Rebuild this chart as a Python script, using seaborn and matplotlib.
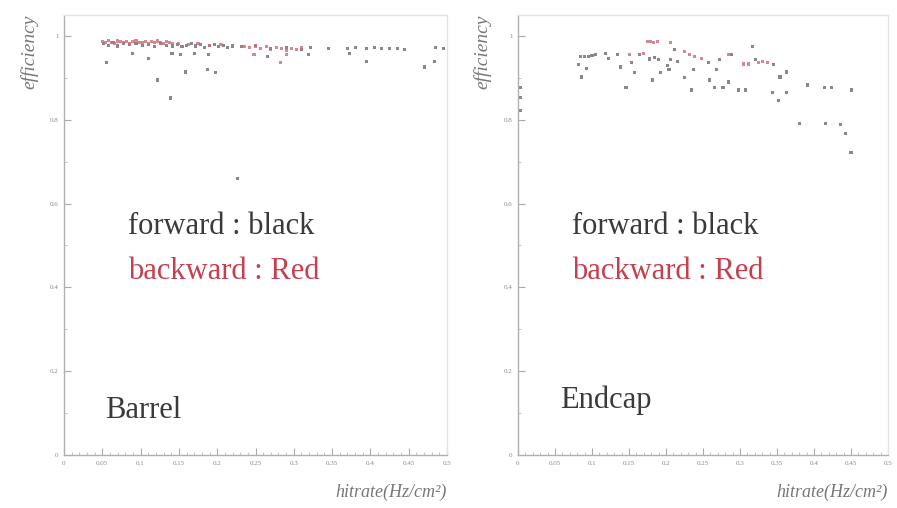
import numpy as np
import pandas as pd
import matplotlib
matplotlib.use("Agg")
import matplotlib.pyplot as plt
import seaborn as sns
from matplotlib.ticker import MultipleLocator, FixedLocator, FixedFormatter

# ---------------- data ----------------
barrel_fwd_x = [0.052, 0.058, 0.064, 0.070, 0.078, 0.086, 0.094, 0.102, 0.110, 0.118,
                0.126, 0.134, 0.142, 0.148, 0.154, 0.160, 0.166, 0.172, 0.178, 0.184,
                0.190, 0.196, 0.202, 0.208, 0.214, 0.220, 0.232, 0.250, 0.270, 0.290,
                0.310, 0.322, 0.345, 0.370, 0.380, 0.395, 0.405, 0.415, 0.425, 0.435,
                0.445, 0.485, 0.495,
                0.056, 0.089, 0.110, 0.122, 0.139, 0.141, 0.152, 0.159, 0.170, 0.187,
                0.198, 0.189, 0.266, 0.319, 0.373, 0.395, 0.471, 0.484, 0.227]
barrel_fwd_y = [0.982, 0.978, 0.984, 0.976, 0.981, 0.979, 0.983, 0.977, 0.980, 0.975,
                0.982, 0.978, 0.976, 0.980, 0.974, 0.978, 0.981, 0.976, 0.979, 0.973,
                0.977, 0.980, 0.975, 0.978, 0.972, 0.976, 0.974, 0.977, 0.970, 0.973,
                0.968, 0.972, 0.970, 0.971, 0.973, 0.970, 0.972, 0.969, 0.971, 0.970,
                0.968, 0.972, 0.970,
                0.936, 0.959, 0.947, 0.895, 0.852, 0.959, 0.955, 0.914, 0.959, 0.919,
                0.912, 0.955, 0.950, 0.955, 0.959, 0.938, 0.926, 0.938, 0.659]

barrel_bwd_x = [0.050, 0.054, 0.058, 0.062, 0.066, 0.070, 0.074, 0.078, 0.082, 0.086,
                0.090, 0.094, 0.098, 0.102, 0.106, 0.110, 0.114, 0.118, 0.122, 0.126,
                0.130, 0.134, 0.138, 0.142, 0.150, 0.162, 0.175, 0.190, 0.205,
                0.235, 0.242, 0.250, 0.257, 0.264, 0.270, 0.277, 0.284, 0.290, 0.297,
                0.303, 0.310, 0.248, 0.283, 0.290]
barrel_bwd_y = [0.987, 0.984, 0.989, 0.985, 0.983, 0.988, 0.986, 0.984, 0.987, 0.983,
                0.986, 0.988, 0.984, 0.985, 0.987, 0.983, 0.986, 0.984, 0.988, 0.985,
                0.983, 0.986, 0.984, 0.982, 0.981, 0.979, 0.982, 0.978, 0.980,
                0.975, 0.972, 0.976, 0.970, 0.974, 0.968, 0.973, 0.970, 0.966, 0.971,
                0.968, 0.972, 0.955, 0.936, 0.955]

endcap_fwd_x = [0.003, 0.003, 0.003, 0.082, 0.086, 0.093, 0.085, 0.090, 0.095, 0.100,
                0.105, 0.118, 0.122, 0.135, 0.138, 0.146, 0.153, 0.158, 0.164, 0.178,
                0.185, 0.190, 0.182, 0.192, 0.202, 0.204, 0.206, 0.212, 0.215, 0.225,
                0.235, 0.237, 0.257, 0.259, 0.265, 0.268, 0.277, 0.284, 0.272, 0.288,
                0.298, 0.308, 0.317, 0.321, 0.345, 0.344, 0.352, 0.354, 0.363, 0.363,
                0.381, 0.391, 0.414, 0.424, 0.416, 0.436, 0.443, 0.451, 0.450]
endcap_fwd_y = [0.876, 0.854, 0.823, 0.931, 0.902, 0.923, 0.952, 0.950, 0.952, 0.953,
                0.955, 0.959, 0.947, 0.955, 0.926, 0.878, 0.936, 0.912, 0.955, 0.945,
                0.948, 0.944, 0.895, 0.912, 0.930, 0.920, 0.943, 0.967, 0.938, 0.900,
                0.871, 0.919, 0.936, 0.895, 0.876, 0.919, 0.876, 0.890, 0.943, 0.955,
                0.871, 0.871, 0.974, 0.943, 0.931, 0.864, 0.847, 0.902, 0.914, 0.864,
                0.792, 0.883, 0.876, 0.876, 0.792, 0.788, 0.768, 0.871, 0.721]

endcap_bwd_x = [0.175, 0.179, 0.183, 0.188, 0.206, 0.151, 0.170, 0.225, 0.232, 0.239,
                0.248, 0.285, 0.305, 0.312, 0.325, 0.331, 0.337]
endcap_bwd_y = [0.986, 0.986, 0.985, 0.986, 0.985, 0.955, 0.958, 0.962, 0.955, 0.950,
                0.947, 0.955, 0.933, 0.933, 0.936, 0.938, 0.936]

panel_names = ["Barrel", "Endcap"]
series_names = ["forward", "backward"]
x_ticks = [0, 0.05, 0.1, 0.15, 0.2, 0.25, 0.3, 0.35, 0.4, 0.45, 0.5]
x_tick_labels = ["0", "0.05", "0.1", "0.15", "0.2", "0.25", "0.3", "0.35", "0.4", "0.45", "0.5"]
y_ticks = [0, 0.2, 0.4, 0.6, 0.8, 1.0]
y_tick_labels = ["0", "0.2", "0.4", "0.6", "0.8", "1"]

def frame(x, y, series):
    return pd.DataFrame({"hitrate": x, "efficiency": y, "series": series})

data = {
    "Barrel": pd.concat([frame(barrel_fwd_x, barrel_fwd_y, "forward"),
                         frame(barrel_bwd_x, barrel_bwd_y, "backward")]),
    "Endcap": pd.concat([frame(endcap_fwd_x, endcap_fwd_y, "forward"),
                         frame(endcap_bwd_x, endcap_bwd_y, "backward")]),
}

# ---------------- style ----------------
sns.set_theme(style="white")
plt.rcParams["font.family"] = ["Liberation Serif", "DejaVu Serif"]

palette = {"forward": "#6a6a6a", "backward": "#d06878"}
fwd_text = "#3a3a3a"
bwd_text = "#c4404f"

fig = plt.figure(figsize=(8.97, 5.08), dpi=100)
axes_rects = [[64 / 897, 53 / 508, 383 / 897, 440 / 508],
              [518 / 897, 53 / 508, 370 / 897, 440 / 508]]
text_pos = {"Barrel": dict(fx=0.167, lab=(0.107, 0.084), ylab=-0.089),
            "Endcap": dict(fx=0.145, lab=(0.113, 0.107), ylab=-0.097)}

for name, rect in zip(panel_names, axes_rects):
    ax = fig.add_axes(rect)
    sns.scatterplot(data=data[name], x="hitrate", y="efficiency", hue="series",
                    palette=palette, hue_order=series_names, marker="s", s=5,
                    linewidth=0, alpha=0.8, legend=False, ax=ax)
    ax.set_xlim(0, 0.5)
    ax.set_ylim(0, 1.05)
    ax.set_xlabel("")
    ax.set_ylabel("")
    ax.xaxis.set_major_locator(FixedLocator(x_ticks))
    ax.xaxis.set_major_formatter(FixedFormatter(x_tick_labels))
    ax.xaxis.set_minor_locator(MultipleLocator(0.01))
    ax.yaxis.set_major_locator(FixedLocator(y_ticks))
    ax.yaxis.set_major_formatter(FixedFormatter(y_tick_labels))
    ax.yaxis.set_minor_locator(MultipleLocator(0.1))
    ax.tick_params(axis="both", which="major", direction="in", length=5, width=0.8,
                   colors="#aaaaaa", labelcolor="#888888", labelsize=5, pad=4,
                   bottom=True, left=True)
    ax.tick_params(axis="both", which="minor", direction="in", length=2.5, width=0.6,
                   colors="#bbbbbb", bottom=True, left=True)
    for side in ["left", "bottom"]:
        ax.spines[side].set_color("#b0b0b0")
        ax.spines[side].set_linewidth(1.0)
    for side in ["top", "right"]:
        ax.spines[side].set_color("#e4e4e4")
        ax.spines[side].set_linewidth(1.0)

    tp = text_pos[name]
    ax.text(tp["ylab"], 1.0, "efficiency", transform=ax.transAxes, rotation=90,
            ha="center", va="top", fontsize=14, style="italic", color="#777777")
    ax.text(1.0, -0.085, "hitrate(Hz/cm²)", transform=ax.transAxes,
            ha="right", va="center", fontsize=13, style="italic", color="#777777")
    ax.text(tp["fx"], 0.502, "forward : black", transform=ax.transAxes,
            ha="left", va="baseline", fontsize=22, color=fwd_text)
    ax.text(tp["fx"], 0.40, "backward : Red", transform=ax.transAxes,
            ha="left", va="baseline", fontsize=22, color=bwd_text)
    ax.text(tp["lab"][0], tp["lab"][1], name, transform=ax.transAxes,
            ha="left", va="baseline", fontsize=22, color=fwd_text)

fig.savefig("out.png", dpi=100, facecolor="white")
